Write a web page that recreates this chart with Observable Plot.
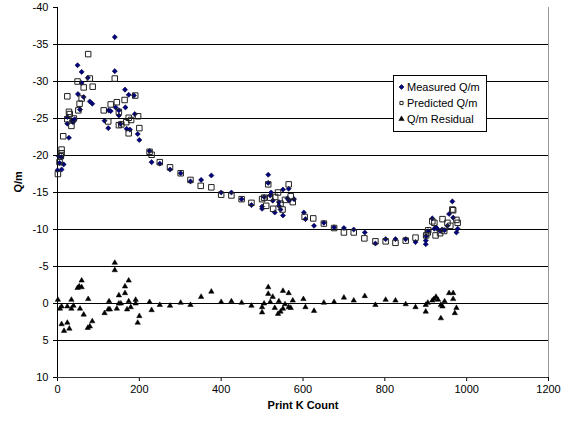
<!DOCTYPE html>
<html><head><meta charset="utf-8">
<script src="https://cdn.jsdelivr.net/npm/d3@7"></script>
<script src="https://cdn.jsdelivr.net/npm/@observablehq/plot@0.6"></script>
<style>
body{margin:0;background:#fff;}
#chart{position:relative;width:564px;height:423px;font-family:"Liberation Sans",Arial,sans-serif;}
#legend{position:absolute;left:393px;top:75px;}
</style></head>
<body><div id="chart"></div>
<script>
// Measured Q/m
const measX = [0,5,10,10,15,3,24,24,28,35,38,42,49,50,55,59,59,64,74,79,85,115,124,125,130,140,140,142,150,150,154,165,166,169,174,177,187,189,196,200,225,230,250,275,301,325,351,376,400,425,450,474,500,500,505,515,515,520,522,526,531,541,541,545,551,551,562,565,566,578,602,606,627,651,676,700,724,751,777,802,826,851,875,900,900,901,906,916,921,925,928,935,940,946,953,957,965,967,975,978];
const measY = [-18.0,-19.0,-18.1,-19.8,-18.8,-19.9,-24.3,-25.2,-22.4,-24.7,-24.5,-24.9,-32.2,-28.3,-26.2,-31.3,-29.8,-27.9,-30.5,-27.3,-27.0,-24.7,-23.7,-26.1,-26.0,-36.0,-31.4,-26.5,-26.1,-25.4,-24.3,-28.9,-26.5,-23.6,-28.2,-23.5,-28.1,-25.6,-22.9,-22.1,-20.6,-19.1,-18.9,-18.1,-17.6,-16.5,-16.7,-17.3,-15.0,-15.0,-14.1,-13.3,-13.1,-12.8,-14.4,-17.4,-16.3,-14.6,-15.0,-13.9,-12.3,-13.7,-13.2,-12.7,-15.4,-11.9,-14.2,-15.5,-13.9,-14.1,-12.3,-11.4,-10.5,-10.9,-10.3,-10.2,-10.0,-9.6,-8.1,-8.7,-8.7,-8.7,-8.3,-8.0,-8.5,-9.1,-9.8,-11.5,-10.1,-10.3,-10.1,-9.8,-10.0,-9.9,-10.5,-12.1,-13.8,-11.6,-9.6,-10.1];
// Predicted Q/m
const predX = [1,5,8,10,10,14,24,24,28,30,34,40,49,51,54,59,64,75,79,86,113,124,130,140,145,150,150,156,164,168,174,174,180,190,197,200,225,230,250,275,301,325,350,376,400,425,450,474,500,505,510,515,520,527,532,539,545,550,556,565,570,575,604,625,651,676,700,724,750,777,802,826,851,875,901,905,906,916,921,924,935,941,945,953,960,965,967,975,978];
const predY = [-17.5,-19.1,-19.9,-20.3,-20.8,-22.6,-28.0,-24.9,-25.9,-25.6,-24.0,-25.0,-30.0,-26.1,-27.0,-27.7,-29.2,-33.7,-30.4,-29.3,-26.1,-24.6,-26.9,-30.4,-27.2,-25.9,-24.1,-24.2,-27.5,-24.5,-23.0,-25.1,-24.8,-28.1,-25.3,-23.7,-20.5,-20.1,-19.1,-18.4,-17.6,-16.7,-15.9,-15.7,-14.7,-14.6,-14.1,-13.6,-14.1,-14.3,-13.2,-16.1,-14.3,-12.8,-14.4,-15.0,-13.5,-12.7,-14.0,-16.1,-14.5,-13.7,-11.7,-11.5,-10.8,-10.2,-9.6,-9.6,-8.8,-8.4,-8.4,-8.2,-8.5,-8.9,-9.2,-9.6,-9.9,-11.1,-10.9,-9.2,-9.5,-11.4,-9.8,-10.9,-10.5,-12.7,-12.6,-11.3,-10.9];
// Q/m Residual
const resX = [1,6,10,10,16,24,24,29,34,34,39,49,53,59,59,55,64,75,74,79,85,115,124,126,128,140,140,145,150,150,155,165,165,174,174,170,179,191,191,196,200,225,230,250,275,301,325,351,376,400,425,450,474,500,500,505,515,515,520,526,531,539,545,541,551,551,556,565,565,570,575,601,606,627,651,676,700,724,751,777,802,826,851,875,900,900,905,916,920,925,930,937,937,941,946,957,967,967,971,975];
const resY = [-0.5,0.7,0.4,2.8,3.7,0.4,2.6,3.4,-0.5,0.7,0.3,-2.1,-2.3,-3.1,-2.2,0.7,1.5,-0.6,3.3,3.1,2.4,1.3,0.8,-0.3,0.8,-5.5,-4.5,0.7,-1.1,0.0,0.0,-2.3,-1.4,-3.1,-0.3,0.8,0.5,-0.5,0.0,2.6,1.7,-0.2,0.9,0.2,0.3,-0.1,0.2,-0.9,-1.6,-0.2,-0.3,-0.1,0.3,0.5,1.2,0.0,-2.2,-1.3,-0.2,-0.9,0.6,1.4,1.1,-0.3,-1.7,0.7,0.1,-1.4,0.5,0.6,-0.4,-0.6,0.5,1.0,-0.1,-0.2,-0.8,-0.4,-1.0,0.2,-0.5,-0.4,0.1,0.5,0.2,1.1,-0.1,-0.4,-0.6,-0.9,-0.5,0.2,2.0,0.4,-0.3,-1.4,-1.4,-0.6,1.3,0.6];

const xTicks = [0,200,400,600,800,1000,1200];
const yTicks = [-40,-35,-30,-25,-20,-15,-10,-5,0,5,10];
const gridY = [-35,-30,-25,-20,-15,-10,-5,0,5];
const seriesNames = ["Measured Q/m","Predicted Q/m","Q/m Residual"];

const meas = measX.map((x,i)=>({x, y: measY[i]}));
const pred = predX.map((x,i)=>({x, y: predY[i]}));
const res = resX.map((x,i)=>({x, y: resY[i]}));

const chart = Plot.plot({
  width: 564, height: 423,
  marginLeft: 57, marginRight: 16, marginTop: 7, marginBottom: 46,
  style: {fontFamily: "'Liberation Sans', Arial, sans-serif", fontSize: "11px", background: "#fff", color: "#000"},
  x: {domain: [0,1200], ticks: xTicks, tickSize: 4, tickPadding: 4, tickFormat: d => String(d), label: null},
  y: {domain: [10,-40], ticks: yTicks, tickSize: 4, tickPadding: 5, tickFormat: d => String(d), label: null},
  marks: [
    Plot.ruleY(gridY, {stroke: "#000", strokeWidth: 1}),
    Plot.ruleX([1200], {stroke: "#999", strokeWidth: 1}),
    Plot.ruleX([0], {stroke: "#000", strokeWidth: 1}),
    Plot.ruleY([10], {stroke: "#333", strokeWidth: 1}),
    Plot.dot(meas, {x: "x", y: "y", symbol: "diamond2", r: 2.3, fill: "#000080", stroke: "#000033", strokeWidth: 0.6}),
    Plot.dot(pred, {x: "x", y: "y", symbol: "square", r: 3.1, fill: "none", stroke: "#222", strokeWidth: 1}),
    Plot.dot(res, {x: "x", y: "y", symbol: "triangle", r: 2.0, fill: "#000", stroke: "#000", strokeWidth: 0.5}),
    Plot.text(["Q/m"], {frameAnchor: "left", dx: -39, rotate: -90, fontWeight: "bold", fontSize: 11}),
    Plot.text(["Print K Count"], {frameAnchor: "bottom", dy: 31, fontWeight: "bold", fontSize: 11})
  ]
});
document.getElementById("chart").appendChild(chart);

// Legend
const leg = d3.select("#chart").append("svg").attr("id","legend").attr("width",95).attr("height",58);
leg.append("rect").attr("x",0.5).attr("y",0.5).attr("width",93).attr("height",56).attr("fill","#fff").attr("stroke","#000");
const syms = [
  {t: d3.symbolDiamond2, s: Math.PI*5, fill: "#000080", stroke: "#000033", sw: 0.6},
  {t: d3.symbolSquare, s: Math.PI*3.2, fill: "#fff", stroke: "#222", sw: 1},
  {t: d3.symbolTriangle, s: Math.PI*4, fill: "#000", stroke: "#000", sw: 0.5}
];
seriesNames.forEach((name,i)=>{
  const yy = 12 + i*16;
  leg.append("path").attr("d", d3.symbol(syms[i].t, syms[i].s)()).attr("transform",`translate(8.5,${yy})`)
    .attr("fill",syms[i].fill).attr("stroke",syms[i].stroke).attr("stroke-width",syms[i].sw);
  leg.append("text").attr("x",14).attr("y",yy).attr("dy","0.35em").attr("font-size",11)
    .attr("font-family","'Liberation Sans', Arial, sans-serif").text(name);
});
</script>
</body></html>
